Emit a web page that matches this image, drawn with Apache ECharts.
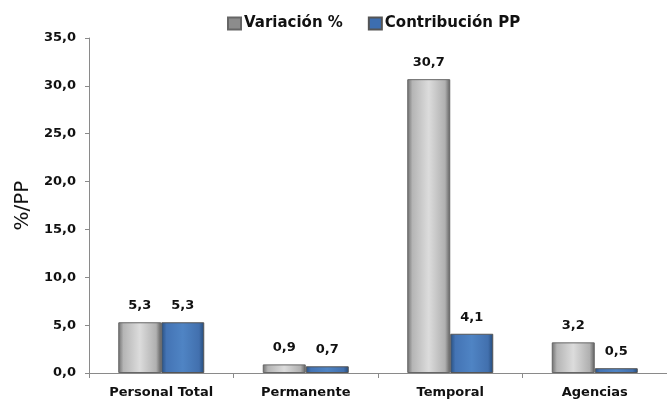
<!DOCTYPE html>
<html>
<head>
<meta charset="utf-8">
<script src="https://cdn.jsdelivr.net/npm/echarts@6/dist/echarts.min.js"></script>
<style>
  html, body { margin: 0; padding: 0; background: #fff; }
  #content { width: 667px; height: 406px; }
</style>
</head>
<body>
<div id="content"></div>
<script>
var categories = ['Personal Total', 'Permanente', 'Temporal', 'Agencias'];
var variacion = [5.3, 0.9, 30.7, 3.2];
var contribucion = [5.3, 0.7, 4.1, 0.5];
var seriesNames = ['Variación %', 'Contribución PP'];

!(function(window) {
    var element = document.getElementById('content');
    var myChart = echarts.init(element);
    var font = '"DejaVu Sans", sans-serif';

    function fmt(v) {
        return v.toFixed(1).replace('.', ',');
    }

    // bevel-ish look: dark edges, light middle
    var grayFill = new echarts.graphic.LinearGradient(0, 0, 1, 0, [
        { offset: 0, color: '#6e6e6e' },
        { offset: 0.12, color: '#b5b5b5' },
        { offset: 0.5, color: '#dcdcdc' },
        { offset: 0.88, color: '#b0b0b0' },
        { offset: 1, color: '#5e5e5e' }
    ]);
    var blueFill = new echarts.graphic.LinearGradient(0, 0, 1, 0, [
        { offset: 0, color: '#284f80' },
        { offset: 0.12, color: '#4474b5' },
        { offset: 0.5, color: '#4f84c4' },
        { offset: 0.88, color: '#4270ae' },
        { offset: 1, color: '#244a78' }
    ]);

    var labelStyle = {
        show: true,
        position: 'top',
        distance: 10,
        fontFamily: font,
        fontWeight: 'bold',
        fontSize: 13,
        color: '#111',
        formatter: function(p) { return fmt(p.value); }
    };

    var option = {
        animation: false,
        legend: {
            top: 11,
            left: 222,
            itemWidth: 13,
            itemHeight: 12,
            itemGap: 25,
            textStyle: { fontFamily: font, fontWeight: 'bold', fontSize: 15, color: '#111', padding: [0, 0, 0, -2] },
            data: [
                { name: seriesNames[0], icon: 'rect', itemStyle: { color: '#8c8c8c' } },
                { name: seriesNames[1], icon: 'rect', itemStyle: { color: '#3d6eb0' } }
            ]
        },
        grid: { left: 89, right: -13, top: 38, bottom: 33 },
        xAxis: {
            type: 'category',
            data: categories,
            axisLine: { lineStyle: { color: '#8a8a8a', width: 1 } },
            axisTick: { show: true, length: 5, lineStyle: { color: '#8a8a8a' } },
            axisLabel: { fontFamily: font, fontWeight: 'bold', fontSize: 13, color: '#111', margin: 13 }
        },
        yAxis: {
            type: 'value',
            min: 0,
            max: 35,
            interval: 5,
            name: '%/PP',
            nameLocation: 'middle',
            nameGap: 56,
            nameTextStyle: { fontFamily: font, fontSize: 20, color: '#111' },
            splitLine: { show: false },
            axisLine: { show: true, lineStyle: { color: '#8a8a8a', width: 1 } },
            axisTick: { show: true, length: 4, lineStyle: { color: '#8a8a8a' } },
            axisLabel: {
                fontFamily: font, fontWeight: 'bold', fontSize: 13, color: '#111', margin: 13,
                formatter: function(v) { return fmt(v); }
            }
        },
        series: [{
            name: seriesNames[0],
            type: 'bar',
            barWidth: 43,
            barGap: '0%',
            data: variacion,
            itemStyle: { color: grayFill, borderColor: '#666', borderWidth: 1 },
            label: labelStyle
        }, {
            name: seriesNames[1],
            type: 'bar',
            barWidth: 43,
            barGap: '0%',
            data: contribucion,
            itemStyle: { color: blueFill, borderColor: '#555', borderWidth: 1 },
            label: labelStyle
        }]
    };
    myChart.setOption(option);
})(window);
</script>
</body>
</html>
